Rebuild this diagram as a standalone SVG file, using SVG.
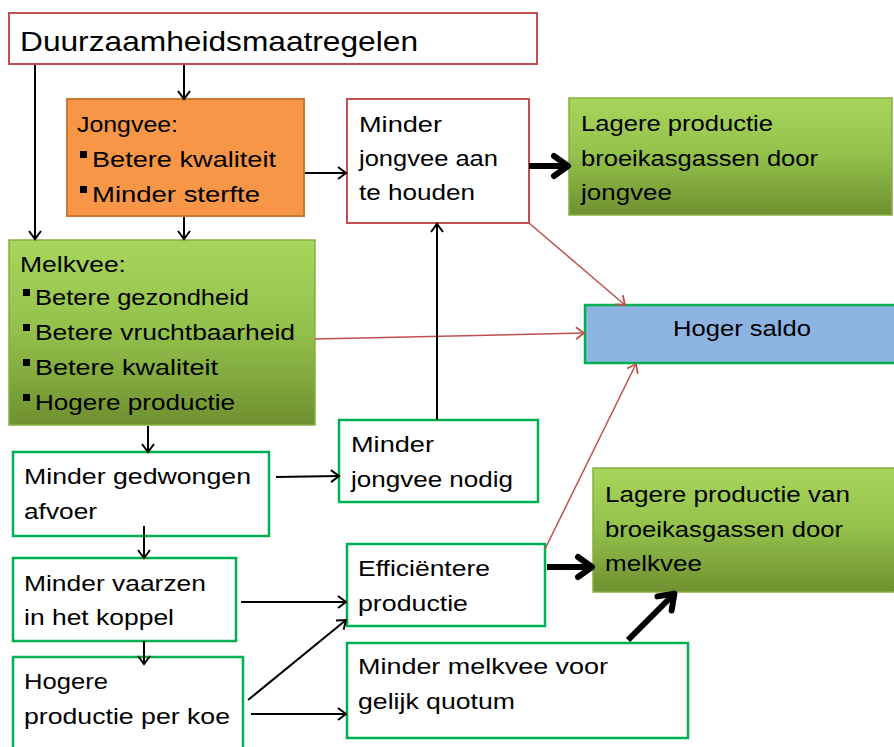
<svg xmlns="http://www.w3.org/2000/svg" width="894" height="747" viewBox="0 0 894 747">
<style>
text{font-family:"Liberation Sans",Arial,sans-serif;font-size:22px;fill:#000}
.title{font-size:27.5px}
.wb{fill:#fff;stroke:#00B050;stroke-width:2.5}
.rb{fill:#fff;stroke:#C0504D;stroke-width:2}
.gb{fill:url(#gg);stroke:#86AE44;stroke-width:1.5}
.ob{fill:#F79646;stroke:#C8782F;stroke-width:2}
.bb{fill:#8DB3E2;stroke:#00B050;stroke-width:2.5}
.ln{fill:none;stroke:#000;stroke-width:2;marker-end:url(#a)}
.rl{fill:none;stroke:#C0504D;stroke-width:1.5;marker-end:url(#r)}
.tk{fill:none;stroke:#000;stroke-width:6;marker-end:url(#t)}
</style>
<defs>
<linearGradient id="gg" x1="0" y1="0" x2="0" y2="1">
<stop offset="0" stop-color="#A8D65C"/>
<stop offset="0.5" stop-color="#92C04A"/>
<stop offset="1" stop-color="#6F9030"/>
</linearGradient>
<marker id="a" markerUnits="userSpaceOnUse" markerWidth="16" markerHeight="16" viewBox="0 0 16 16" refX="11" refY="8" orient="auto">
<path d="M3,2 L11,8 L3,14" fill="none" stroke="#000" stroke-width="2"/>
</marker>
<marker id="r" markerUnits="userSpaceOnUse" markerWidth="16" markerHeight="16" viewBox="0 0 16 16" refX="11" refY="8" orient="auto">
<path d="M3,2 L11,8 L3,14" fill="none" stroke="#C0504D" stroke-width="1.8"/>
</marker>
<marker id="t" markerUnits="userSpaceOnUse" markerWidth="30" markerHeight="30" viewBox="0 0 30 30" refX="19" refY="15" orient="auto">
<path d="M7,5 L21,15 L7,25" fill="none" stroke="#000" stroke-width="6" stroke-linecap="round" stroke-linejoin="round"/>
</marker>
</defs>

<g id="title">
<rect class="rb" x="9" y="13" width="528" height="51"/>
<text class="title" x="20" y="51" textLength="398" lengthAdjust="spacingAndGlyphs">Duurzaamheidsmaatregelen</text>
</g>

<g id="jongvee">
<rect class="ob" x="67" y="99" width="237" height="117"/>
<text x="77" y="132" textLength="101" lengthAdjust="spacingAndGlyphs">Jongvee:</text>
<rect x="80" y="151" width="7" height="7"/>
<text x="92" y="167" textLength="184" lengthAdjust="spacingAndGlyphs">Betere kwaliteit</text>
<rect x="80" y="186" width="7" height="7"/>
<text x="92" y="202" textLength="168" lengthAdjust="spacingAndGlyphs">Minder sterfte</text>
</g>

<g id="melkvee">
<rect class="gb" x="9" y="240" width="306" height="185"/>
<text x="20" y="272" textLength="106" lengthAdjust="spacingAndGlyphs">Melkvee:</text>
<rect x="23" y="289" width="7" height="7"/>
<text x="35" y="305" textLength="214" lengthAdjust="spacingAndGlyphs">Betere gezondheid</text>
<rect x="23" y="324" width="7" height="7"/>
<text x="35" y="340" textLength="260" lengthAdjust="spacingAndGlyphs">Betere vruchtbaarheid</text>
<rect x="23" y="359" width="7" height="7"/>
<text x="35" y="375" textLength="183" lengthAdjust="spacingAndGlyphs">Betere kwaliteit</text>
<rect x="23" y="394" width="7" height="7"/>
<text x="35" y="410" textLength="200" lengthAdjust="spacingAndGlyphs">Hogere productie</text>
</g>

<g id="minder-jongvee-aan-te-houden">
<rect class="rb" x="347" y="99" width="182" height="124"/>
<text x="359" y="132" textLength="83" lengthAdjust="spacingAndGlyphs">Minder</text>
<text x="359" y="166" textLength="139" lengthAdjust="spacingAndGlyphs">jongvee aan</text>
<text x="359" y="200" textLength="116" lengthAdjust="spacingAndGlyphs">te houden</text>
</g>

<g id="lagere-productie-jongvee">
<rect class="gb" x="569" y="98" width="323" height="117"/>
<text x="581" y="131" textLength="192" lengthAdjust="spacingAndGlyphs">Lagere productie</text>
<text x="581" y="166" textLength="237" lengthAdjust="spacingAndGlyphs">broeikasgassen door</text>
<text x="581" y="200" textLength="91" lengthAdjust="spacingAndGlyphs">jongvee</text>
</g>

<g id="hoger-saldo">
<rect class="bb" x="585" y="305" width="315" height="58"/>
<text x="673" y="336" textLength="138" lengthAdjust="spacingAndGlyphs">Hoger saldo</text>
</g>

<g id="minder-jongvee-nodig">
<rect class="wb" x="339" y="420" width="199" height="82"/>
<text x="351" y="452" textLength="83" lengthAdjust="spacingAndGlyphs">Minder</text>
<text x="351" y="487" textLength="162" lengthAdjust="spacingAndGlyphs">jongvee nodig</text>
</g>

<g id="minder-gedwongen-afvoer">
<rect class="wb" x="13" y="452" width="256" height="84"/>
<text x="24" y="484" textLength="227" lengthAdjust="spacingAndGlyphs">Minder gedwongen</text>
<text x="24" y="519" textLength="73" lengthAdjust="spacingAndGlyphs">afvoer</text>
</g>

<g id="minder-vaarzen">
<rect class="wb" x="13" y="558" width="223" height="83"/>
<text x="24" y="591" textLength="182" lengthAdjust="spacingAndGlyphs">Minder vaarzen</text>
<text x="24" y="625" textLength="150" lengthAdjust="spacingAndGlyphs">in het koppel</text>
</g>

<g id="hogere-productie-per-koe">
<rect class="wb" x="13" y="657" width="230" height="110"/>
<text x="24" y="689" textLength="84" lengthAdjust="spacingAndGlyphs">Hogere</text>
<text x="24" y="724" textLength="206" lengthAdjust="spacingAndGlyphs">productie per koe</text>
</g>

<g id="efficientere-productie">
<rect class="wb" x="347" y="544" width="198" height="82"/>
<text x="358" y="576" textLength="132" lengthAdjust="spacingAndGlyphs">Efficiëntere</text>
<text x="358" y="611" textLength="110" lengthAdjust="spacingAndGlyphs">productie</text>
</g>

<g id="minder-melkvee">
<rect class="wb" x="347" y="643" width="341" height="95"/>
<text x="358" y="674" textLength="250" lengthAdjust="spacingAndGlyphs">Minder melkvee voor</text>
<text x="358" y="709" textLength="157" lengthAdjust="spacingAndGlyphs">gelijk quotum</text>
</g>

<g id="lagere-productie-melkvee">
<rect class="gb" x="593" y="468" width="310" height="124"/>
<text x="605" y="502" textLength="245" lengthAdjust="spacingAndGlyphs">Lagere productie van</text>
<text x="605" y="537" textLength="238" lengthAdjust="spacingAndGlyphs">broeikasgassen door</text>
<text x="605" y="571" textLength="97" lengthAdjust="spacingAndGlyphs">melkvee</text>
</g>

<g id="connectors">
<line class="ln" x1="184" y1="65" x2="184" y2="99"/>
<line class="ln" x1="35" y1="65" x2="35" y2="239"/>
<line class="ln" x1="184" y1="217" x2="184" y2="239"/>
<line class="ln" x1="305" y1="173" x2="346" y2="173"/>
<line class="tk" x1="529" y1="166" x2="566" y2="166"/>
<line class="rl" x1="529" y1="223" x2="625" y2="305"/>
<line class="rl" x1="315" y1="339" x2="584" y2="333"/>
<line class="rl" x1="545" y1="549" x2="636" y2="364"/>
<line class="ln" x1="148" y1="426" x2="148" y2="452"/>
<line class="ln" x1="276" y1="477" x2="339" y2="476"/>
<line class="ln" x1="437" y1="420" x2="437" y2="224"/>
<line class="ln" x1="144" y1="526" x2="144" y2="558"/>
<line class="ln" x1="144" y1="641" x2="144" y2="664"/>
<line class="ln" x1="241" y1="602" x2="346" y2="602"/>
<line class="ln" x1="248" y1="700" x2="346" y2="620"/>
<line class="ln" x1="251" y1="714" x2="346" y2="714"/>
<line class="tk" x1="547" y1="567" x2="590" y2="567"/>
<line class="tk" x1="628" y1="640" x2="673" y2="595"/>
</g>
</svg>
